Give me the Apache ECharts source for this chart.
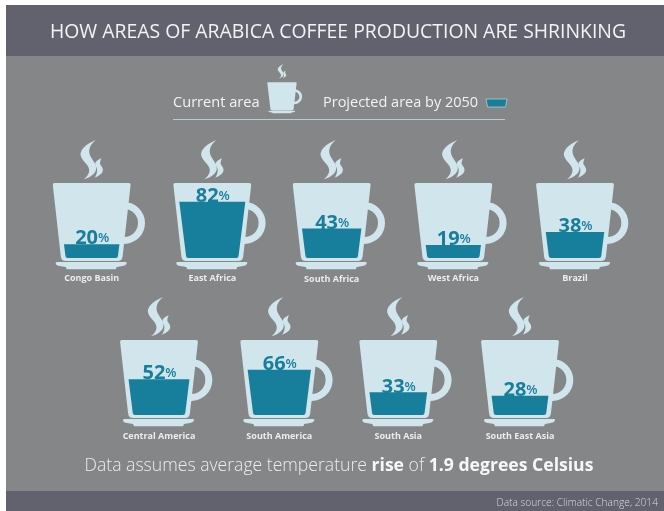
<!DOCTYPE html>
<html><head><meta charset="utf-8">
<style>html,body{margin:0;padding:0;background:#fff}#c{width:664px;height:511px}</style>
<script src="https://cdn.jsdelivr.net/npm/echarts@6/dist/echarts.min.js"></script>
</head><body><div id="c"></div>
<script>
const categories = ['Congo Basin','East Africa','South Africa','West Africa','Brazil','Central America','South America','South Asia','South East Asia'];
const shareRemaining = [20,82,43,19,38,52,66,33,28];
const cupCentres = [91.7,212.3,331.7,453.3,575,159,279.3,398.3,520];
const cupTops = [183,183,183,183,183,340,340,340,340];
const labelMargins = [16,16,17,16,16,17,17,17,17];

const BG='#858688', BAND='#62626e', CUP='#d0e5ec', FILL='#177f9c', FONT='"Open Sans"';
const CUP_PATH='M-37,0 L37,0 Q39.2,0 38.9,2 L30.9,73.5 Q30.3,78 26,78 L-26,78 Q-30.3,78 -30.9,73.5 L-38.9,2 Q-39.2,0 -37,0 Z';
const SAUCER='M-35,79 L34,79 Q35.5,79.3 35,80.5 Q34,82.5 31,83 L25,84 L24,86.3 L-25,86.3 L-26,84 L-32,83 Q-35.5,82.5 -36,80.5 Q-36,79.2 -35,79 Z';
const STEAM1='M4,-43 C-6,-39 -13.5,-32 -10.5,-26 C-8,-20.5 -2.5,-18 -2.5,-12.5 C-2.5,-9 -5,-6 -8,-3.8 C-1,-5.5 5,-10 4.5,-15.5 C4,-21 -2,-25 -2.5,-31 C-2.8,-36 0.5,-40 4,-43 Z';
const STEAM2='M9.8,-24.8 C6,-23.5 3,-21 3.5,-18.5 C4,-16 5.8,-15 5.4,-12 C5.2,-9 4,-7 2.8,-5.2 C7.5,-7 11.6,-10 11.2,-13.5 C10.8,-17 8,-18 8.3,-20 C8.5,-22 9,-23.5 9.8,-24.8 Z';

function cupParts(steamShift){
  const p=(d,dy)=>({type:'path',y:dy||0,shape:{pathData:d,layout:'none'},style:{fill:CUP}});
  return [
    {type:'circle',shape:{cx:32.3,cy:40,r:17.5},style:{fill:'none',stroke:CUP,lineWidth:7}},
    p(CUP_PATH),p(SAUCER),p(STEAM1,steamShift),p(STEAM2,steamShift)
  ];
}
const PX_BOTTOM=75, PX_SCALE=68.7;
const grids=[],xAxes=[],yAxes=[],series=[];
categories.forEach((name,i)=>{
  grids.push({left:cupCentres[i]-39,width:78,top:cupTops[i]+PX_BOTTOM-PX_SCALE,height:PX_SCALE,containLabel:false});
  xAxes.push({gridIndex:i,type:'category',data:[name],axisLine:{show:false},axisTick:{show:false},splitLine:{show:false},
    axisLabel:{show:true,interval:0,margin:labelMargins[i],fontFamily:FONT,fontWeight:700,fontSize:9,color:'#e9eef0'}});
  yAxes.push({gridIndex:i,type:'value',min:0,max:100,show:false});
  series.push({type:'custom',xAxisIndex:i,yAxisIndex:i,coordinateSystem:'cartesian2d',clip:false,silent:true,
    data:[[name,shareRemaining[i]]],
    renderItem(params,api){
      const v=api.value(1);
      const b=api.coord([api.value(0),0]), t=api.coord([api.value(0),v]);
      const cx=b[0], y0=b[1], y1=t[1];
      const hb=26, ht=hb+(y0-y1)*0.125, r=2;
      const d=`M${cx-ht},${y1} L${cx+ht},${y1} L${cx+hb+0.25},${y0-r} Q${cx+hb},${y0} ${cx+hb-r},${y0} L${cx-hb+r},${y0} Q${cx-hb},${y0} ${cx-hb-0.25},${y0-r} Z`;
      return {type:'group',children:[
        {type:'group',x:cx,y:y0-PX_BOTTOM,children:cupParts(0)},
        {type:'path',shape:{pathData:d,layout:'none'},style:{fill:FILL}},
        {type:'text',style:{x:cx+0.5,y:y1+6.5,align:'center',verticalAlign:'bottom',fill:FILL,
          text:`{n|${v}}{p|%}`,rich:{n:{fontFamily:FONT,fontWeight:700,fontSize:20,fill:FILL,lineHeight:24},p:{fontFamily:FONT,fontWeight:600,fontSize:13,fill:FILL,lineHeight:24}}}}
      ]};
    }});
});
// legend cup: its own small grid, scaled from the same artwork
const li=categories.length;
grids.push({left:267,width:30,top:82,height:29});
xAxes.push({gridIndex:li,type:'value',min:0,max:1,show:false});
yAxes.push({gridIndex:li,type:'value',min:0,max:1,show:false});
series.push({type:'custom',xAxisIndex:li,yAxisIndex:li,clip:false,silent:true,data:[[0.5,1]],
  renderItem(params,api){const c=api.coord([api.value(0),api.value(1)]);
    return {type:'group',x:c[0],y:c[1]+0.3,scaleX:0.377,scaleY:0.36,children:cupParts(-7)};}});

const txt=(x,y,text,size,extra)=>({type:'text',x,y,style:Object.assign({text,fontFamily:FONT,fontSize:size,fill:'#f2f3f3',textVerticalAlign:'middle'},extra||{})});
const chart=echarts.init(document.getElementById('c'),null,{renderer:'canvas'});
chart.setOption({
  animation:false,backgroundColor:'#fff',
  graphic:[
    {type:'rect',z:-10,shape:{x:6,y:5,width:658,height:506},style:{fill:BG}},
    {type:'rect',z:-9,shape:{x:6,y:5,width:658,height:51},style:{fill:BAND}},
    {type:'rect',z:-9,shape:{x:6,y:491,width:658,height:20},style:{fill:BAND}},
    txt(338,32,'HOW AREAS OF ARABICA COFFEE PRODUCTION ARE SHRINKING',19.4,{textAlign:'center'}),
    txt(173,103,'Current area',14.6,{}),
    txt(323,103,'Projected area by 2050',14.5,{}),
    {type:'polygon',shape:{points:[[486,99],[507,99],[505.5,107],[487.5,107]]},style:{fill:FILL,stroke:CUP,lineWidth:0.6}},
    {type:'rect',shape:{x:173,y:119,width:332,height:1},style:{fill:'#b4cdd4'}},
    {type:'text',x:339,y:466,style:{text:'{a|Data assumes average temperature }{b|rise}{a| of }{b|1.9 degrees Celsius}',textAlign:'center',textVerticalAlign:'middle',
      rich:{a:{fontFamily:FONT,fontWeight:300,fontSize:17.6,fill:'#eceded'},b:{fontFamily:FONT,fontWeight:700,fontSize:17.6,fill:'#f7f7f7'}}}},
    txt(658,503,'Data source: Climatic Change, 2014',10.2,{textAlign:'right',fontWeight:300,fill:'#d8d8dc'})
  ],
  grid:grids,xAxis:xAxes,yAxis:yAxes,series
});
</script></body></html>
